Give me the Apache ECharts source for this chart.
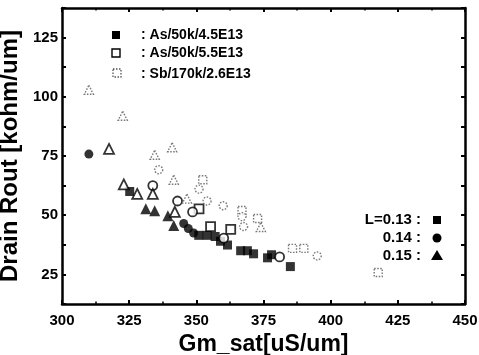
<!DOCTYPE html>
<html>
<head>
<meta charset="utf-8">
<script src="https://cdn.jsdelivr.net/npm/echarts@6/dist/echarts.min.js"></script>
<style>
  html, body { margin: 0; padding: 0; background: #fff; }
  #chart { width: 479px; height: 355px; }
</style>
</head>
<body>
<div id="chart"></div>
<script>
// x = Gm_sat [uS/um], y = Rout [kohm/um]
// As/50k/4.5E13 (filled symbols)
var asLowSquare = [[325.2, 60], [350.9, 41.5], [354, 41.5], [357, 41], [359, 39], [361.6, 37.4], [366.5, 35], [369, 35], [371.3, 33.7], [376.5, 32], [378, 33.3], [385, 28.3]];
var asLowCircle = [[310, 75.8], [345.3, 46.5], [347, 44.4], [349, 42.5]];
var asLowTri = [[331.2, 52.7], [334.5, 51.9], [339.4, 49.8], [341.6, 45.7]];
// As/50k/5.5E13 (open symbols)
var asHighSquare = [[351, 52.7], [355.3, 45.2], [362.8, 44]];
var asHighCircle = [[333.8, 62.5], [343, 56], [348.6, 51.4], [360.2, 40.3], [381, 32.4]];
var asHighTri = [[317.5, 78], [323, 63], [328, 59], [333.8, 59], [342, 51.4]];
// Sb/170k/2.6E13 (dotted symbols)
var sbSquare = [[352.4, 65], [367, 52], [372.8, 48.6], [385.8, 36], [390, 36], [417.7, 25.8]];
var sbCircle = [[336, 69.2], [351, 61], [354, 56], [360, 54], [367.6, 45.2], [367, 49.4], [395, 32.8]];
var sbTri = [[310, 103], [322.6, 92], [334.5, 75.5], [341, 78.7], [341.6, 65], [346.5, 57], [374, 45]];

var groupLabels = [': As/50k/4.5E13', ': As/50k/5.5E13', ': Sb/170k/2.6E13'];
var lengthLabels = ['L=0.13 :', '0.14 :', '0.15 :'];

var font = 'Liberation Sans, Arial, sans-serif';

function filled(data, sym, size) {
    return { type: 'scatter', data: data, symbol: sym, symbolSize: size,
        itemStyle: { color: '#000' } };
}
function open(data, sym, size) {
    return { type: 'scatter', data: data, symbol: sym, symbolSize: size,
        itemStyle: { color: '#fff', borderColor: '#000', borderWidth: 1.8 } };
}
function dotted(data, sym, size) {
    return { type: 'scatter', data: data, symbol: sym, symbolSize: size,
        itemStyle: { color: '#fff', borderColor: '#555', borderWidth: 1.4, borderType: [1.5, 1.5] } };
}

var mychart = echarts.init(document.getElementById('chart'));

var tickStyle = { show: true, inside: true, length: 4, lineStyle: { color: '#000', width: 2 } };
var frameLine = { show: true, lineStyle: { color: '#000', width: 2.5 } };
var labelFont = { fontFamily: font, fontWeight: 'bold', fontSize: 15, color: '#000' };

var option = {
    animation: false,
    grid: { left: 62, right: 14, top: 8, bottom: 51, outerBoundsMode: 'none' },
    xAxis: [
        {
            type: 'value', min: 300, max: 450, interval: 25,
            name: 'Gm_sat[uS/um]', nameLocation: 'middle', nameGap: 24,
            nameTextStyle: { fontFamily: font, fontWeight: 'bold', fontSize: 23, color: '#000' },
            axisLine: frameLine, axisTick: tickStyle,
            minorTick: { show: true, splitNumber: 2, length: 2.5, lineStyle: { color: '#000', width: 1.5 } },
            axisLabel: Object.assign({ margin: 9 }, labelFont),
            splitLine: { show: false }
        },
        {
            type: 'value', position: 'top', min: 300, max: 450, interval: 25,
            axisLine: frameLine, axisTick: tickStyle,
            minorTick: { show: true, splitNumber: 2, length: 2.5, lineStyle: { color: '#000', width: 1.5 } },
            axisLabel: { show: false }, splitLine: { show: false }
        }
    ],
    yAxis: [
        {
            type: 'value', min: 12.5, max: 137.5, interval: 12.5,
            name: 'Drain Rout [kohm/um]', nameLocation: 'middle', nameGap: 31,
            nameTextStyle: { fontFamily: font, fontWeight: 'bold', fontSize: 24, color: '#000' },
            axisLine: frameLine, axisTick: tickStyle,
            axisLabel: Object.assign({
                margin: 4,
                formatter: function (v) { return v % 25 === 0 ? String(v) : ''; }
            }, labelFont),
            splitLine: { show: false }
        },
        {
            type: 'value', position: 'right', min: 12.5, max: 137.5, interval: 12.5,
            axisLine: frameLine, axisTick: tickStyle,
            axisLabel: { show: false }, splitLine: { show: false }
        }
    ],
    graphic: [
        { type: 'rect', shape: { x: 112, y: 31, width: 8, height: 8 }, style: { fill: '#000' } },
        { type: 'rect', shape: { x: 112, y: 49, width: 8, height: 8 }, style: { fill: '#fff', stroke: '#000', lineWidth: 1.4 } },
        { type: 'rect', shape: { x: 113, y: 69, width: 8, height: 8 }, style: { fill: '#fff', stroke: '#555', lineWidth: 1.3, lineDash: [1.5, 1.5] } },
        { type: 'text', x: 141, y: 35, style: { text: groupLabels[0], font: 'bold 14px ' + font, fill: '#000', verticalAlign: 'middle' } },
        { type: 'text', x: 141, y: 53, style: { text: groupLabels[1], font: 'bold 14px ' + font, fill: '#000', verticalAlign: 'middle' } },
        { type: 'text', x: 141, y: 74, style: { text: groupLabels[2], font: 'bold 14px ' + font, fill: '#000', verticalAlign: 'middle' } },
        { type: 'text', x: 421, y: 220, style: { text: lengthLabels[0], font: 'bold 15px ' + font, fill: '#000', align: 'right', verticalAlign: 'middle' } },
        { type: 'text', x: 421, y: 238, style: { text: lengthLabels[1], font: 'bold 15px ' + font, fill: '#000', align: 'right', verticalAlign: 'middle' } },
        { type: 'text', x: 421, y: 256, style: { text: lengthLabels[2], font: 'bold 15px ' + font, fill: '#000', align: 'right', verticalAlign: 'middle' } },
        { type: 'rect', shape: { x: 433, y: 216, width: 8, height: 8 }, style: { fill: '#000' } },
        { type: 'circle', shape: { cx: 437, cy: 238, r: 4.5 }, style: { fill: '#000' } },
        { type: 'polygon', shape: { points: [[437, 250], [443, 260], [431, 260]] }, style: { fill: '#000' } }
    ],
    series: [
        filled(asLowSquare, 'rect', 9),
        filled(asLowCircle, 'circle', 9),
        filled(asLowTri, 'triangle', 11),
        open(asHighSquare, 'rect', 9),
        open(asHighCircle, 'circle', 9),
        open(asHighTri, 'triangle', 10),
        dotted(sbSquare, 'rect', 8),
        dotted(sbCircle, 'circle', 8),
        dotted(sbTri, 'triangle', 9)
    ]
};
mychart.setOption(option);
</script>
</body>
</html>
